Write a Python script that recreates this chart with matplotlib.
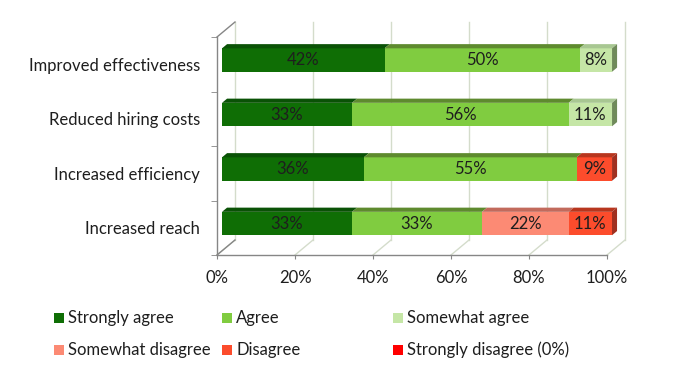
"""
Survey results - 3D-style stacked horizontal bar chart
"""

import matplotlib.pyplot as plt
from matplotlib.patches import Polygon, Rectangle
from matplotlib.transforms import ScaledTranslation, IdentityTransform

categories = ['Improved effectiveness', 'Reduced hiring costs',
              'Increased efficiency', 'Increased reach']
series = ['Strongly agree', 'Agree', 'Somewhat agree',
          'Somewhat disagree', 'Disagree', 'Strongly disagree (0%)']
values = {
    'Strongly agree':         [41.67, 33.33, 36.36, 33.33],
    'Agree':                  [50.00, 55.56, 54.55, 33.33],
    'Somewhat agree':         [8.33, 11.11, 0, 0],
    'Somewhat disagree':      [0, 0, 0, 22.22],
    'Disagree':               [0, 0, 9.09, 11.11],
    'Strongly disagree (0%)': [0, 0, 0, 0],
}
xticks = [0, 20, 40, 60, 80, 100]

front_colors = ['#0f6e05', '#80cc40', '#c5e6a6', '#fc8a74', '#fc4c2c', '#ff0000']
top_colors = ['#0a5206', '#5e8a2e', '#a8c792', '#c26a5c', '#b8361e', '#b00000']
side_colors = ['#0a4a06', '#5a7a36', '#6f8a5a', '#a85a4e', '#a03020', '#990000']

FONT = 'Lato'
FS = 12
TXT = '#1e1e1e'
GRID = '#d4dccb'
AXC = '#868686'

# depth of the box in pixels (dpi = 100)
DX, DY = 18, 15
D_FRONT, D_BACK = 0.28, 0.56
BAR_H = 0.43

fig = plt.figure(figsize=(6.75, 3.75), dpi=100)
ax = fig.add_axes([217 / 675, 1 - 255 / 375, 390 / 675, 218 / 375])
ax.set_xlim(0, 100)
ax.set_ylim(-0.5, 3.5)
for s in ax.spines.values():
    s.set_visible(False)
ax.patch.set_visible(False)


def disp(x, y, d):
    px, py = ax.transData.transform((x, y))
    return (px + d * DX, py + d * DY)


def shift(d):
    return ax.transData + ScaledTranslation(d * DX / 100, d * DY / 100, fig.dpi_scale_trans)


def poly(pts, color, z):
    ax.add_patch(Polygon(pts, closed=True, facecolor=color, edgecolor='none',
                         transform=IdentityTransform(), clip_on=False, zorder=z))


def seg(p, q, color, z, lw=1):
    ax.add_line(plt.Line2D([p[0], q[0]], [p[1], q[1]], color=color, lw=lw,
                           transform=IdentityTransform(), clip_on=False, zorder=z))


# back wall grid + floor
for x in xticks:
    ax.plot([x, x], [-0.5, 3.5], color=GRID, lw=1, transform=shift(1), clip_on=False, zorder=1)
    seg(disp(x, -0.5, 0), disp(x, -0.5, 1), GRID, 1)

# left wall edges and front axes
seg(disp(0, 3.5, 0), disp(0, 3.5, 1), AXC, 2)
seg(disp(0, -0.5, 0), disp(0, -0.5, 1), AXC, 2)
ax.plot([0, 0], [-0.5, 3.5], color=AXC, lw=1, clip_on=False, zorder=2)
ax.plot([0, 100], [-0.5, -0.5], color=AXC, lw=1, clip_on=False, zorder=2)

# bars
ypos = [3 - i for i in range(len(categories))]
for ci, yc in enumerate(ypos):
    left = 0
    last = None
    for si, name in enumerate(series):
        w = values[name][ci]
        if w <= 0:
            continue
        ax.barh(yc, w, left=left, height=BAR_H, color=front_colors[si],
                transform=shift(D_FRONT), clip_on=False, zorder=3)
        yt = yc + BAR_H / 2
        poly([disp(left, yt, D_FRONT), disp(left + w, yt, D_FRONT),
              disp(left + w, yt, D_BACK), disp(left, yt, D_BACK)], top_colors[si], 3)
        ax.text(left + w / 2, yc, f'{w:.0f}%', ha='center', va='center',
                fontsize=FS, family=FONT, color=TXT, transform=shift(D_FRONT), zorder=4)
        left += w
        last = si
    yb = yc - BAR_H / 2
    yt = yc + BAR_H / 2
    poly([disp(left, yb, D_FRONT), disp(left, yt, D_FRONT),
          disp(left, yt, D_BACK), disp(left, yb, D_BACK)], side_colors[last], 3)

# ticks
ax.set_xticks(xticks, [f'{x}%' for x in xticks])
ax.tick_params(axis='x', length=3, color=AXC, pad=8, labelsize=FS, labelcolor=TXT)
ax.set_yticks(ypos, categories)
ax.set_yticks([-0.5, 0.5, 1.5, 2.5, 3.5], minor=True)
ax.tick_params(axis='y', which='major', length=0, pad=12, labelsize=FS, labelcolor=TXT)
ax.tick_params(axis='y', which='minor', length=4, color=AXC)
for lab in ax.get_xticklabels() + ax.get_yticklabels():
    lab.set_family(FONT)

# legend, 3 columns x 2 rows
col_x = [54, 222, 393]
row_y = [318, 350]
for i, name in enumerate(series):
    x0 = col_x[i % 3]
    y0 = 375 - row_y[i // 3]
    fig.patches.append(Rectangle((x0 / 675, (y0 - 5) / 375), 10 / 675, 10 / 375,
                                 facecolor=front_colors[i], edgecolor='none',
                                 transform=fig.transFigure, figure=fig))
    fig.text((x0 + 14) / 675, y0 / 375, name, ha='left', va='center',
             fontsize=FS, family=FONT, color=TXT)

fig.savefig('out.png', dpi=100)
plt.close()
